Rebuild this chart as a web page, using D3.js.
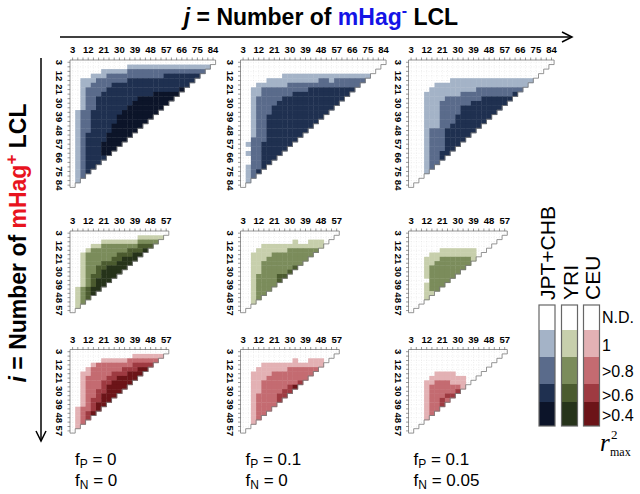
<!DOCTYPE html>
<html>
<head>
<meta charset="utf-8">
<script src="https://cdn.jsdelivr.net/npm/d3@7"></script>
<style>
  body { margin: 0; background: #fff; }
</style>
</head>
<body>
<script>
// number of LCLs on each axis (i rows = mHag+, j columns = mHag-)
const lclTop = [3,6,9,12,15,18,21,24,27,30,33,36,39,42,45,48,51,54,57,60,63,66,69,72,75,78,81,84];
const lclLow = [3,6,9,12,15,18,21,24,27,30,33,36,39,42,45,48,51,54,57];

const populations = ["JPT+CHB", "YRI", "CEU"];
const levelLabels = ["N.D.", "1", ">0.8", ">0.6", ">0.4"];
const jptColors = ["#ffffff", "#a4b3c7", "#5a6b8b", "#1f3050", "#0c1429"];
const yriColors = ["#ffffff", "#c7cfac", "#7b8c5b", "#4b5b2f", "#26331a"];
const ceuColors = ["#ffffff", "#e3b1b4", "#c46b71", "#9e3a41", "#6c1418"];
const fpValues = ["0", "0.1", "0.1"];
const fnValues = ["0", "0", "0.05"];

// r2max level of every cell, one string per row i, one digit per column j
// 0 = N.D., 1 = 1, 2 = >0.8, 3 = >0.6, 4 = >0.4
const jptP0N0 = [
  "0000000000000000000000000000",
  "000000000001111111111111111",
  "00000011111222222222222222",
  "0000111222222222223333333",
  "001112222223333333333333",
  "00112222333333333333333",
  "0012222333333333333334",
  "001222333333333344444",
  "00122333333334444444",
  "0012233333334444444",
  "001223333334444444",
  "01223333334444444",
  "0122333334444444",
  "012233333444444",
  "01223333444444",
  "0122333344444",
  "012333344444",
  "01233334444",
  "0123334444",
  "012333444",
  "01233344",
  "0123333",
  "012333",
  "01233",
  "0123",
  "012",
  "01",
  "0"
];
const jptP1N0 = [
  "0000000000000000000000000000",
  "000000000000000000000000000",
  "00000000000000000000000000",
  "0000000011111111111111111",
  "000001111111111221222222",
  "00011111122222222222222",
  "0011222222222333333333",
  "001122222233333333333",
  "00122222333333333333",
  "0012222333333333333",
  "001222333333333333",
  "00122233333333333",
  "0012233333333333",
  "001223333333333",
  "00122333333333",
  "0012233333333",
  "001223333333",
  "00222333333",
  "0122333333",
  "002233333",
  "01223333",
  "0022333",
  "002233",
  "01223",
  "0123",
  "012",
  "01",
  "0"
];
const jptP1N05 = [
  "0000000000000000000000000000",
  "000000000000000000000000000",
  "00000000000000000000000000",
  "0000000000000000000000000",
  "000000001111111111111111",
  "00000111111111111111111",
  "0000111111111222222222",
  "000111111122222222223",
  "00011112222222333333",
  "0001112222223333333",
  "000111222233333333",
  "00011122223333333",
  "0001112223333333",
  "000111222333333",
  "00011122333333",
  "0001222333333",
  "000122233333",
  "00012223333",
  "0001222333",
  "000122233",
  "00012233",
  "0001223",
  "000122",
  "00012",
  "0001",
  "000",
  "00",
  "0"
];
const yriP0N0 = [
  "0000000000000000000",
  "000000000000011111",
  "00000011111112222",
  "0000112222222333",
  "000122222223334",
  "00122222233344",
  "0012222233444",
  "001222333444",
  "00122334444",
  "0012234444",
  "001233444",
  "00123444",
  "0012344",
  "012344",
  "01234",
  "0123",
  "012",
  "01",
  "0"
];
const yriP1N0 = [
  "0000000000000000000",
  "000000000000000000",
  "00000000001001110",
  "0000111111111111",
  "000111111222222",
  "00111122222222",
  "0011122222222",
  "001122222222",
  "00112222223",
  "0011222223",
  "001222233",
  "00122223",
  "0012222",
  "001222",
  "00122",
  "0012",
  "001",
  "00",
  "0"
];
const yriP1N05 = [
  "0000000000000000000",
  "000000000000000000",
  "00000000000000000",
  "0000000000000000",
  "000000111111100",
  "00001111111110",
  "0001112222221",
  "000112222222",
  "00012222222",
  "0001222222",
  "000122222",
  "00002222",
  "0001222",
  "000122",
  "00011",
  "0001",
  "000",
  "00",
  "0"
];
const ceuP0N0 = [
  "0000000000000000000",
  "000000000000111111",
  "00000011111222222",
  "0000122222223333",
  "000122222233344",
  "00112222333444",
  "0012222334444",
  "001222334444",
  "00122234444",
  "0012233444",
  "001223444",
  "00123344",
  "0012344",
  "012234",
  "01234",
  "0123",
  "012",
  "01",
  "0"
];
const ceuP1N0 = [
  "0000000000000000000",
  "000000000000000000",
  "00000000001001110",
  "0000111111111111",
  "000111111222222",
  "00111122222222",
  "0011122222222",
  "001122222223",
  "00112222234",
  "0011222233",
  "001222233",
  "00122223",
  "0012222",
  "001222",
  "00122",
  "0012",
  "001",
  "00",
  "0"
];
const ceuP1N05 = [
  "0000000000000000000",
  "000000000000000000",
  "00000000000000000",
  "0000000000000000",
  "000000000000000",
  "00000111100000",
  "0000111111100",
  "000112221110",
  "00012222221",
  "0001222223",
  "000122233",
  "00012232",
  "0001223",
  "000122",
  "00012",
  "0001",
  "000",
  "00",
  "0"
];

const W = 640, H = 494;
const svg = d3.select("body").append("svg")
  .attr("width", W).attr("height", H)
  .style("font-family", "'Liberation Sans', Arial, sans-serif");

const palettes = [jptColors, yriColors, ceuColors];
const grids = [
  [jptP0N0, jptP1N0, jptP1N05],
  [yriP0N0, yriP1N0, yriP1N05],
  [ceuP0N0, ceuP1N0, ceuP1N05]
];

// panel placement
const colX = [70, 240.5, 408.5];
const rowY = [60, 231, 349.5];
const cellW = 5.2;
const cellH = [4.55, 4.3, 4.4];

grids.forEach((rowGrids, pr) => {
  rowGrids.forEach((grid, pc) => {
    const lcl = pr === 0 ? lclTop : lclLow;
    const n = lcl.length;
    const x0 = colX[pc], y0 = rowY[pr];
    const x = d3.scaleBand().domain(lcl).range([x0, x0 + n * cellW]);
    const y = d3.scaleBand().domain(lcl).range([y0, y0 + n * cellH[pr]]);
    const g = svg.append("g");

    // faint dotted guide lines inside the triangle
    lcl.forEach((v, k) => {
      const cx = x(v) + x.bandwidth() / 2;
      const cy = y(v) + y.bandwidth() / 2;
      g.append("line")
        .attr("x1", cx).attr("x2", cx)
        .attr("y1", y0).attr("y2", y(lcl[n - 1 - k]) + y.bandwidth())
        .attr("stroke", "#e0e0e0").attr("stroke-width", 0.5)
        .attr("stroke-dasharray", "1,1.5");
      g.append("line")
        .attr("y1", cy).attr("y2", cy)
        .attr("x1", x0).attr("x2", x(lcl[n - 1 - k]) + x.bandwidth())
        .attr("stroke", "#e0e0e0").attr("stroke-width", 0.5)
        .attr("stroke-dasharray", "1,1.5");
    });

    const cells = [];
    grid.forEach((s, r) => {
      s.split("").forEach((ch, c) => {
        if (+ch > 0) cells.push({ i: lcl[r], j: lcl[c], v: +ch });
      });
    });
    g.selectAll("rect.cell").data(cells).join("rect")
      .attr("class", "cell")
      .attr("x", d => x(d.j))
      .attr("y", d => y(d.i))
      .attr("width", x.bandwidth() + 0.4)
      .attr("height", y.bandwidth() + 0.4)
      .attr("fill", d => palettes[pr][d.v]);

    // staircase outline of the triangle
    let p = `M${x0},${y0}H${x0 + n * x.bandwidth()}`;
    for (let k = 0; k < n; k++) {
      p += `V${y0 + (k + 1) * y.bandwidth()}H${x0 + (n - k - 1) * x.bandwidth()}`;
    }
    p += "Z";
    g.append("path").attr("d", p)
      .attr("fill", "none").attr("stroke", "#7a7a7a").attr("stroke-width", 0.8);

    // ticks
    g.selectAll("line.tx").data(lcl).join("line")
      .attr("x1", d => x(d) + x.bandwidth() / 2).attr("x2", d => x(d) + x.bandwidth() / 2)
      .attr("y1", y0).attr("y2", y0 - 2.5)
      .attr("stroke", "#555").attr("stroke-width", 0.6);
    g.selectAll("line.ty").data(lcl).join("line")
      .attr("y1", d => y(d) + y.bandwidth() / 2).attr("y2", d => y(d) + y.bandwidth() / 2)
      .attr("x1", x0).attr("x2", x0 - 2.5)
      .attr("stroke", "#555").attr("stroke-width", 0.6);

    const labelled = lcl.filter(v => (v - 3) % 9 === 0);
    g.selectAll("text.lx").data(labelled).join("text")
      .attr("x", d => x(d) + x.bandwidth() / 2)
      .attr("y", y0 - 7)
      .attr("text-anchor", "middle")
      .attr("font-size", 9.5).attr("font-weight", "bold")
      .text(d => d);
    g.selectAll("text.ly").data(labelled).join("text")
      .attr("transform", d => `translate(${x0 - 14},${y(d) + y.bandwidth() / 2}) rotate(90)`)
      .attr("text-anchor", "middle")
      .attr("font-size", 9.5).attr("font-weight", "bold")
      .text(d => d);
  });
});

// axis titles and arrows
const title = svg.append("text")
  .attr("x", 321).attr("y", 25)
  .attr("text-anchor", "middle")
  .attr("font-size", 23).attr("font-weight", "bold");
title.append("tspan").attr("font-style", "italic").text("j");
title.append("tspan").text(" = Number of ");
title.append("tspan").attr("fill", "#1414e6").text("mHag");
title.append("tspan").attr("fill", "#1414e6").attr("font-size", 16).attr("dy", -9).text("-");
title.append("tspan").attr("dy", 9).text(" LCL");

svg.append("line").attr("x1", 60).attr("x2", 572).attr("y1", 37).attr("y2", 37)
  .attr("stroke", "#000").attr("stroke-width", 1.5);
svg.append("polyline").attr("points", "562,32 572,37 562,42")
  .attr("fill", "none").attr("stroke", "#000").attr("stroke-width", 1.5);

const side = svg.append("text")
  .attr("transform", "translate(26,243) rotate(-90)")
  .attr("text-anchor", "middle")
  .attr("font-size", 23).attr("font-weight", "bold");
side.append("tspan").attr("font-style", "italic").text("i");
side.append("tspan").text(" = Number of ");
side.append("tspan").attr("fill", "#e8141e").text("mHag");
side.append("tspan").attr("fill", "#e8141e").attr("font-size", 17).attr("dy", -9).text("+");
side.append("tspan").attr("dy", 9).text(" LCL");

svg.append("line").attr("x1", 41).attr("x2", 41).attr("y1", 58).attr("y2", 441)
  .attr("stroke", "#000").attr("stroke-width", 1.5);
svg.append("polyline").attr("points", "36,431 41,441 46,431")
  .attr("fill", "none").attr("stroke", "#000").attr("stroke-width", 1.5);

// fP / fN labels under each column
fpValues.forEach((fp, k) => {
  const lines = [["P", fp], ["N", fnValues[k]]];
  lines.forEach((ln, m) => {
    const t = svg.append("text")
      .attr("x", colX[k] + 5).attr("y", 465 + m * 21)
      .attr("font-size", 17);
    t.append("tspan").text("f");
    t.append("tspan").attr("font-size", 12).attr("dy", 3).text(ln[0]);
    t.append("tspan").attr("dy", -3).text(" = " + ln[1]);
  });
});

// legend
const legendX = [539, 561.5, 583.5];
const legendEdges = [305, 330, 357, 384, 402, 426];
const legendLabelY = [317, 345, 371, 395, 415];
palettes.forEach((pal, k) => {
  const lg = svg.append("g");
  pal.forEach((c, m) => {
    lg.append("rect")
      .attr("x", legendX[k]).attr("y", legendEdges[m])
      .attr("width", 16).attr("height", legendEdges[m + 1] - legendEdges[m])
      .attr("fill", c);
  });
  lg.append("rect")
    .attr("x", legendX[k]).attr("y", legendEdges[0])
    .attr("width", 16).attr("height", legendEdges[5] - legendEdges[0])
    .attr("fill", "none").attr("stroke", "#666").attr("stroke-width", 1.2);
  svg.append("text")
    .attr("transform", `translate(${legendX[k] + 16},300) rotate(-90)`)
    .attr("font-size", 21)
    .text(populations[k]);
});
levelLabels.forEach((lab, m) => {
  svg.append("text")
    .attr("x", 602).attr("y", legendLabelY[m])
    .attr("dominant-baseline", "central")
    .attr("font-size", 16)
    .text(lab);
});
const rlab = svg.append("g").style("font-family", "'Liberation Serif', 'Times New Roman', serif");
rlab.append("text").attr("x", 600).attr("y", 451).attr("font-size", 25).attr("font-style", "italic").text("r");
rlab.append("text").attr("x", 611).attr("y", 439).attr("font-size", 13).text("2");
rlab.append("text").attr("x", 610).attr("y", 456).attr("font-size", 12).text("max");
</script>
</body>
</html>
